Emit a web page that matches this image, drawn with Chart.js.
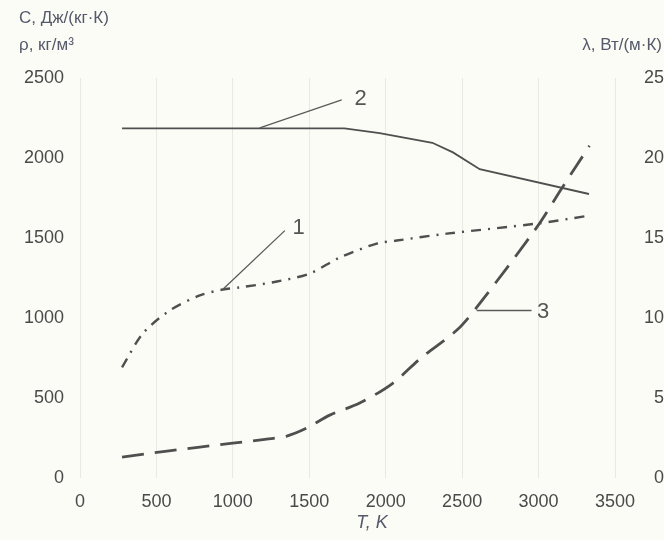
<!DOCTYPE html>
<html>
<head>
<meta charset="utf-8">
<script src="https://cdn.jsdelivr.net/npm/chart.js@4/dist/chart.umd.min.js"></script>
<style>
  html, body { margin: 0; padding: 0; background: #fcfcf7; }
  #wrap { width: 664px; height: 540px; }
</style>
</head>
<body>
<div id="wrap"><canvas id="c" width="664" height="540"></canvas></div>
<script>
// Temperature points (K) and values for each curve
const tDensity = [275, 412, 588, 784, 935, 1046, 1288, 1503, 1699, 1941, 2072, 2399, 2987, 3333];
const density  = [692, 904, 1047, 1141, 1178, 1191, 1228, 1278, 1378, 1465, 1484, 1527, 1590, 1640];

const tHeat = [275, 1730, 1960, 2305, 2440, 2615, 3330];
const heat  = [2185, 2185, 2155, 2095, 2035, 1930, 1775];

const tCond = [275, 569, 784, 1000, 1222, 1353, 1484, 1634, 1830, 2046, 2230, 2464, 2595, 2987, 3150, 3333];
const cond  = [1.31, 1.68, 1.93, 2.18, 2.43, 2.62, 3.12, 3.93, 4.68, 5.92, 7.5, 9.23, 10.66, 15.65, 18.08, 20.76];

const xTicks = [0, 500, 1000, 1500, 2000, 2500, 3000, 3500];
const leftTicks = [0, 500, 1000, 1500, 2000, 2500];
const rightTicks = [0, 5, 10, 15, 20, 25];

// Curve labels: number, anchor on curve, leader end, text position (data units)
const labelNames = ['1', '2', '3'];
const labelAxes = ['y', 'y', 'y1'];
const labelFrom = [[935, 1180], [1176, 2188], [2595, 10.47]];
const labelTo   = [[1340, 1546], [1712, 2363], [2954, 10.47]];
const labelText = [[1430, 1565], [1835, 2369], [3030, 10.35]];

const pts = (xs, ys) => xs.map((x, i) => ({ x, y: ys[i] }));
const plain = v => String(v);

const ink = '#4f4f4f';
const textInk = '#4a4a4a';
const font = '"Liberation Sans", Arial, sans-serif';

const bgPlugin = {
  id: 'bg',
  beforeDraw(chart) {
    const ctx = chart.ctx;
    ctx.save();
    ctx.fillStyle = '#fcfcf7';
    ctx.fillRect(0, 0, chart.width, chart.height);
    ctx.restore();
  }
};

const notesPlugin = {
  id: 'notes',
  afterDatasetsDraw(chart) {
    const ctx = chart.ctx;
    const sx = chart.scales.x;
    ctx.save();
    // leader lines and curve numbers
    labelNames.forEach((name, i) => {
      const sy = chart.scales[labelAxes[i]];
      ctx.strokeStyle = '#5a5a5a';
      ctx.lineWidth = 1.3;
      ctx.beginPath();
      ctx.moveTo(sx.getPixelForValue(labelFrom[i][0]), sy.getPixelForValue(labelFrom[i][1]));
      ctx.lineTo(sx.getPixelForValue(labelTo[i][0]), sy.getPixelForValue(labelTo[i][1]));
      ctx.stroke();
      ctx.fillStyle = '#555';
      ctx.font = '22px ' + font;
      ctx.textAlign = 'center';
      ctx.textBaseline = 'middle';
      ctx.fillText(name, sx.getPixelForValue(labelText[i][0]), sy.getPixelForValue(labelText[i][1]));
    });
    // axis titles
    ctx.fillStyle = '#55596a';
    ctx.font = '17px ' + font;
    ctx.textBaseline = 'middle';
    ctx.textAlign = 'left';
    ctx.fillText('C, Дж/(кг·К)', 19, 18);
    ctx.fillText('ρ, кг/м³', 19, 45);
    ctx.textAlign = 'right';
    ctx.fillText('λ, Вт/(м·К)', 662, 45);
    ctx.textAlign = 'center';
    ctx.font = 'italic 18px ' + font;
    ctx.fillText('T, K', 372, 523);
    ctx.restore();
  }
};

new Chart(document.getElementById('c'), {
  type: 'line',
  data: {
    datasets: [
      {
        label: 'ρ',
        data: pts(tDensity, density),
        yAxisID: 'y',
        borderColor: ink,
        borderWidth: 2.4,
        borderDash: [10, 7, 2, 7],
        tension: 0.3,
        pointRadius: 0,
        fill: false
      },
      {
        label: 'C',
        data: pts(tHeat, heat),
        yAxisID: 'y',
        borderColor: ink,
        borderWidth: 1.8,
        tension: 0,
        pointRadius: 0,
        fill: false
      },
      {
        label: 'λ',
        data: pts(tCond, cond),
        yAxisID: 'y1',
        borderColor: ink,
        borderWidth: 2.8,
        borderDash: [22, 11],
        tension: 0.3,
        pointRadius: 0,
        fill: false
      }
    ]
  },
  options: {
    responsive: false,
    animation: false,
    layout: { padding: { top: 78, left: 0, right: 0, bottom: 0 } },
    plugins: { legend: { display: false }, tooltip: { enabled: false } },
    scales: {
      x: {
        type: 'linear',
        min: 0,
        max: 3500,
        afterBuildTicks(axis) { axis.ticks = xTicks.map(v => ({ value: v })); },
        afterFit(axis) { axis.height = 62; },
        grid: { color: 'rgba(170,170,160,0.22)', drawTicks: false, lineWidth: 1 },
        border: { display: false },
        ticks: { color: textInk, font: { family: font, size: 18 }, padding: 13, callback: plain }
      },
      y: {
        position: 'left',
        min: 0,
        max: 2500,
        afterBuildTicks(axis) { axis.ticks = leftTicks.map(v => ({ value: v })); },
        afterFit(axis) { axis.width = 80; },
        grid: { display: false, drawTicks: false },
        border: { display: false },
        ticks: { color: textInk, font: { family: font, size: 18 }, padding: 16, callback: plain }
      },
      y1: {
        position: 'right',
        min: 0,
        max: 25,
        afterBuildTicks(axis) { axis.ticks = rightTicks.map(v => ({ value: v })); },
        afterFit(axis) { axis.width = 49; },
        grid: { display: false, drawTicks: false },
        border: { display: false },
        ticks: { color: textInk, font: { family: font, size: 18 }, padding: 2, crossAlign: 'far', callback: plain }
      }
    }
  },
  plugins: [bgPlugin, notesPlugin]
});
</script>
</body>
</html>
